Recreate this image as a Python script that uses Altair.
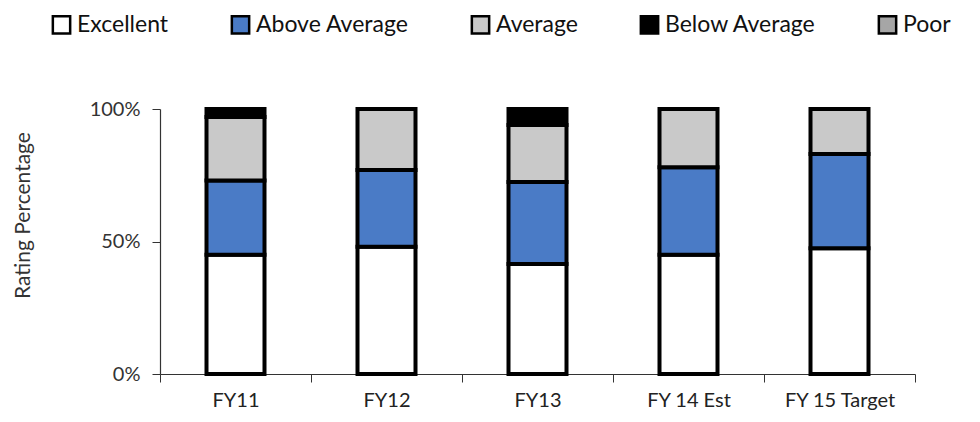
import altair as alt
import pandas as pd

years = ["FY11", "FY12", "FY13", "FY 14 Est", "FY 15 Target"]
categories = ["Excellent", "Above Average", "Average", "Below Average", "Poor"]
colors = ["#ffffff", "#4a7bc6", "#c9c9c9", "#000000", "#a6a6a6"]

excellent = [45.0, 48.0, 41.5, 45.0, 47.5]
above_average = [28.0, 29.0, 31.0, 33.0, 35.5]
average = [24.0, 23.0, 21.5, 22.0, 17.0]
below_average = [3.0, 0.0, 6.0, 0.0, 0.0]
poor = [0.0, 0.0, 0.0, 0.0, 0.0]

series = [excellent, above_average, average, below_average, poor]

rows = []
for ci, (cat, vals) in enumerate(zip(categories, series)):
    for yr, v in zip(years, vals):
        if v > 0:
            rows.append({"Year": yr, "Rating": cat, "Value": v / 100.0, "rank": ci})
df = pd.DataFrame(rows)

FONT = "Lato"

chart = alt.Chart(df).mark_bar(
    size=58, stroke="#000000", strokeWidth=4
).encode(
    x=alt.X("Year:N", sort=years, title=None,
            scale=alt.Scale(paddingInner=0, paddingOuter=0),
            axis=alt.Axis(labelAngle=0, tickBand="extent", tickSize=8,
                          labelPadding=8, labelFontSize=20, labelFont=FONT,
                          labelColor="#222222", domainColor="#333333",
                          tickColor="#333333", domainWidth=1.2)),
    y=alt.Y("Value:Q", stack="zero", title="Rating Percentage",
            scale=alt.Scale(domain=[0, 1], nice=False),
            axis=alt.Axis(values=[0, 0.5, 1], format=".0%", tickSize=8,
                          labelPadding=12, labelFontSize=20, labelFont=FONT,
                          labelColor="#333333", domainColor="#333333",
                          tickColor="#333333", grid=False, domainWidth=1.2,
                          titleFont=FONT, titleFontSize=21, titleFontWeight="normal",
                          titleColor="#333333", titleX=-137, titleY=106,
                          titleAngle=270, titleAlign="center",
                          titleBaseline="middle")),
    fill=alt.Fill("Rating:N", scale=alt.Scale(domain=categories, range=colors),
                  legend=alt.Legend(title=None, orient="none", direction="horizontal",
                                    columns=5, legendX=-110, legendY=-96,
                                    symbolType="square", symbolSize=300,
                                    symbolStrokeColor="#000000", symbolStrokeWidth=2.5,
                                    symbolOpacity=1, labelLimit=400,
                                    labelFont=FONT, labelFontSize=23,
                                    labelColor="#111111", labelOffset=4,
                                    columnPadding=57)),
    order=alt.Order("rank:Q", sort="ascending"),
).properties(
    width=755, height=265,
    autosize=alt.AutoSizeParams(type="none"),
    padding={"left": 152, "top": 101, "right": 57, "bottom": 40},
).configure_view(stroke=None)

chart.save("out.html", embed_options={"renderer": "svg", "actions": False})
